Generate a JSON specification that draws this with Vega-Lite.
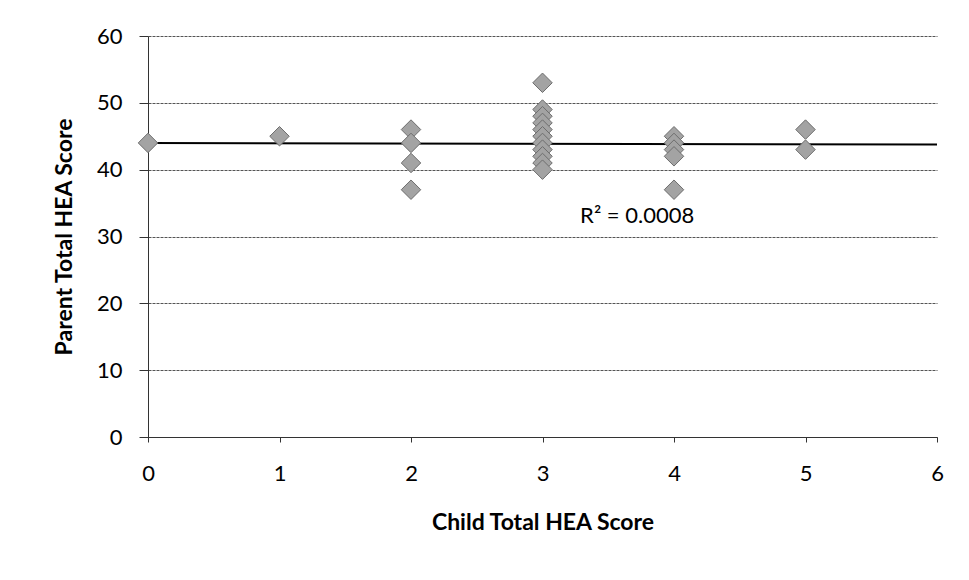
{
  "$schema": "https://vega.github.io/schema/vega-lite/v6.json",
  "autosize": {"type": "none"},
  "width": 789,
  "height": 401,
  "padding": {"left": 148, "top": 36, "right": 32, "bottom": 143},
  "background": "white",
  "config": {
    "view": {"stroke": null},
    "font": "Lato",
    "axis": {
      "labelFont": "Lato",
      "titleFont": "Lato",
      "labelColor": "#000",
      "titleColor": "#000",
      "labelFontSize": 22,
      "titleFontSize": 23,
      "titleFontWeight": "bold",
      "domainColor": "#333",
      "tickColor": "#333",
      "gridColor": "#555",
      "gridDash": [3, 1],
      "gridWidth": 1
    }
  },
  "datasets": {
    "points": [
      {"child": 0, "parent": 44},
      {"child": 1, "parent": 45},
      {"child": 2, "parent": 46},
      {"child": 2, "parent": 44},
      {"child": 2, "parent": 41},
      {"child": 2, "parent": 37},
      {"child": 3, "parent": 53},
      {"child": 3, "parent": 49},
      {"child": 3, "parent": 48},
      {"child": 3, "parent": 47},
      {"child": 3, "parent": 46},
      {"child": 3, "parent": 45},
      {"child": 3, "parent": 44},
      {"child": 3, "parent": 43},
      {"child": 3, "parent": 42},
      {"child": 3, "parent": 41},
      {"child": 3, "parent": 40},
      {"child": 4, "parent": 45},
      {"child": 4, "parent": 44},
      {"child": 4, "parent": 43},
      {"child": 4, "parent": 42},
      {"child": 4, "parent": 37},
      {"child": 5, "parent": 46},
      {"child": 5, "parent": 43}
    ],
    "trend": [
      {"child": 0, "parent": 44.0},
      {"child": 6, "parent": 43.75}
    ],
    "annotation": [
      {"label": "R² = 0.0008"}
    ]
  },
  "layer": [
    {
      "data": {"name": "trend"},
      "mark": {"type": "line", "color": "#000", "strokeWidth": 2},
      "encoding": {
        "x": {
          "field": "child", "type": "quantitative",
          "scale": {"domain": [0, 6], "nice": false},
          "axis": {
            "title": "Child Total HEA Score",
            "values": [0, 1, 2, 3, 4, 5, 6],
            "format": "d",
            "grid": false,
            "tickSize": 5,
            "labelPadding": 21,
            "titlePadding": 27,
            "labelFlush": false
          }
        },
        "y": {
          "field": "parent", "type": "quantitative",
          "scale": {"domain": [0, 60], "nice": false},
          "axis": {
            "title": "Parent Total HEA Score",
            "values": [0, 10, 20, 30, 40, 50, 60],
            "format": "d",
            "grid": true,
            "tickSize": 9,
            "labelPadding": 17,
            "titlePadding": 20,
            "labelFlush": false
          }
        }
      }
    },
    {
      "data": {"name": "points"},
      "mark": {"type": "point", "shape": "diamond", "size": 380, "filled": true, "fill": "#a3a3a3", "stroke": "#6e6e6e", "strokeWidth": 1, "opacity": 1},
      "encoding": {
        "x": {"field": "child", "type": "quantitative"},
        "y": {"field": "parent", "type": "quantitative"}
      }
    },
    {
      "data": {"name": "annotation"},
      "mark": {"type": "text", "fontSize": 22, "font": "Lato", "color": "#000", "align": "center", "baseline": "middle"},
      "encoding": {
        "text": {"field": "label", "type": "nominal"},
        "x": {"datum": 3.72, "type": "quantitative"},
        "y": {"datum": 33.0, "type": "quantitative"}
      }
    }
  ]
}
